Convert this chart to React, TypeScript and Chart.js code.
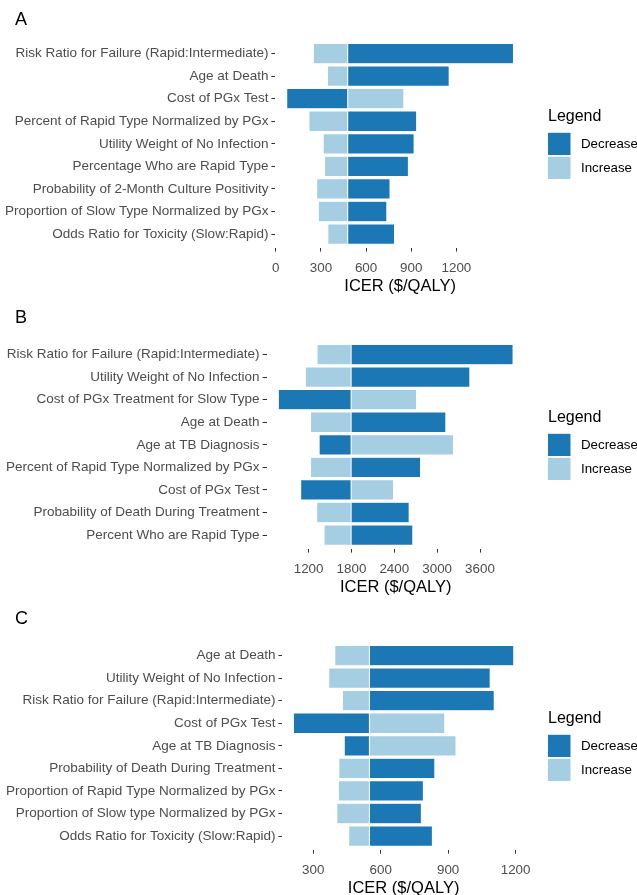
import React, { useEffect, useRef } from "react";
import { Chart, registerables } from "chart.js";

Chart.register(...registerables);

// ---------- Panel A ----------
const labelsA = [
  "Risk Ratio for Failure (Rapid:Intermediate)",
  "Age at Death",
  "Cost of PGx Test",
  "Percent of Rapid Type Normalized by PGx",
  "Utility Weight of No Infection",
  "Percentage Who are Rapid Type",
  "Probability of 2-Month Culture Positivity",
  "Proportion of Slow Type Normalized by PGx",
  "Odds Ratio for Toxicity (Slow:Rapid)",
];
const baseA = 478;
const decreaseA = [1579, 1152, 73, 936, 919, 881, 759, 738, 789];
const increaseA = [250, 343, 851, 221, 315, 324, 272, 283, 346];
const ticksA = [0, 300, 600, 900, 1200];

// ---------- Panel B ----------
const labelsB = [
  "Risk Ratio for Failure (Rapid:Intermediate)",
  "Utility Weight of No Infection",
  "Cost of PGx Treatment for Slow Type",
  "Age at Death",
  "Age at TB Diagnosis",
  "Percent of Rapid Type Normalized by PGx",
  "Cost of PGx Test",
  "Probability of Death During Treatment",
  "Percent Who are Rapid Type",
];
const baseB = 1795;
const decreaseB = [4063, 3458, 776, 3122, 1347, 2767, 1089, 2608, 2659];
const increaseB = [1318, 1154, 2711, 1227, 3229, 1227, 2390, 1313, 1416];
const ticksB = [1200, 1800, 2400, 3000, 3600];

// ---------- Panel C ----------
const labelsC = [
  "Age at Death",
  "Utility Weight of No Infection",
  "Risk Ratio for Failure (Rapid:Intermediate)",
  "Cost of PGx Test",
  "Age at TB Diagnosis",
  "Probability of Death During Treatment",
  "Proportion of Rapid Type Normalized by PGx",
  "Proportion of Slow type Normalized by PGx",
  "Odds Ratio for Toxicity (Slow:Rapid)",
];
const baseC = 550;
const decreaseC = [1192, 1087, 1105, 212, 438, 841, 790, 781, 830];
const increaseC = [396, 369, 430, 885, 935, 414, 412, 405, 458];
const ticksC = [300, 600, 900, 1200];

const seriesNames = ["Decrease", "Increase"];
const axisTitle = "ICER ($/QALY)";
const legendTitle = "Legend";

// ---------- styling ----------
const FONT = "'Liberation Sans', Arial, Helvetica, sans-serif";
const DARK = "#1c78b4";
const LIGHT = "#a6cee3";
const W = 637;
const H = 301;
const PLOT_TOP = 40;
const PLOT_BOTTOM = 247.6;
const PLOT_RIGHT = 524.8;

type PanelProps = {
  letter: string;
  labels: string[];
  base: number;
  decrease: number[];
  increase: number[];
  ticks: number[];
  plotLeft: number;
  letterY: number;
};

function TornadoPanel(p: PanelProps) {
  const ref = useRef<HTMLCanvasElement | null>(null);

  useEffect(() => {
    if (!ref.current) return;
    const all = [p.base, ...p.decrease, ...p.increase];
    const lo = Math.min(...all);
    const hi = Math.max(...all);
    const pad = (hi - lo) * 0.05;
    const rows = p.labels.length;

    // panel letter and the legend block on the right
    const decor = {
      id: "panelDecor",
      afterDraw(chart: any) {
        const ctx = chart.ctx as CanvasRenderingContext2D;
        ctx.save();
        ctx.fillStyle = "#000";
        ctx.textAlign = "left";
        ctx.textBaseline = "middle";
        ctx.font = `18px ${FONT}`;
        ctx.fillText(p.letter, 15, p.letterY);

        ctx.font = `16px ${FONT}`;
        ctx.fillText(legendTitle, 548, 116.5);
        const colors = [DARK, LIGHT];
        const keyTops = [132.8, 156.8];
        ctx.font = `13.3px ${FONT}`;
        seriesNames.forEach((name, i) => {
          ctx.fillStyle = colors[i];
          ctx.fillRect(548, keyTops[i], 22.5, 22.2);
          ctx.fillStyle = "#000";
          ctx.fillText(name, 581, keyTops[i] + 11.6);
        });
        ctx.restore();
      },
    };

    const barStyle = {
      borderWidth: 0.5,
      borderColor: "rgba(255,255,255,0.8)",
      borderSkipped: false,
      grouped: false,
      barPercentage: 0.9,
      categoryPercentage: 1,
    };

    const chart = new Chart(ref.current, {
      type: "bar",
      data: {
        datasets: [
          {
            label: seriesNames[0],
            data: p.labels.map((_, i) => ({ y: i + 1, x: [p.base, p.decrease[i]] })),
            backgroundColor: DARK,
            ...barStyle,
          },
          {
            label: seriesNames[1],
            data: p.labels.map((_, i) => ({ y: i + 1, x: [p.base, p.increase[i]] })),
            backgroundColor: LIGHT,
            ...barStyle,
          },
        ],
      } as any,
      options: {
        indexAxis: "y",
        responsive: false,
        animation: false,
        devicePixelRatio: 1,
        layout: { padding: { top: PLOT_TOP, right: W - PLOT_RIGHT, left: 0, bottom: 0 } },
        plugins: { legend: { display: false }, tooltip: { enabled: false } },
        scales: {
          x: {
            type: "linear",
            min: lo - pad,
            max: hi + pad,
            bounds: "data",
            beginAtZero: false,
            offset: false,
            afterBuildTicks: (s: any) => {
              s.ticks = p.ticks.map((v) => ({ value: v }));
            },
            afterFit: (s: any) => {
              s.height = H - PLOT_BOTTOM;
            },
            ticks: {
              autoSkip: false,
              maxRotation: 0,
              padding: 8.5,
              color: "#4d4d4d",
              font: { family: FONT, size: 13.4 },
              callback: (v: any) => String(v),
            },
            grid: {
              display: true,
              drawOnChartArea: false,
              drawTicks: true,
              tickLength: 4,
              color: "#333333",
              lineWidth: 1,
              offset: false,
            },
            border: { display: false },
            title: {
              display: true,
              text: axisTitle,
              color: "#000",
              font: { family: FONT, size: 16.5 },
              padding: { top: 0, bottom: 5 },
            },
          },
          y: {
            type: "linear",
            reverse: true,
            min: 1 - 0.6,
            max: rows + 0.6,
            bounds: "data",
            offset: false,
            afterBuildTicks: (s: any) => {
              s.ticks = p.labels.map((_, i) => ({ value: i + 1 }));
            },
            afterFit: (s: any) => {
              s.width = p.plotLeft;
            },
            ticks: {
              autoSkip: false,
              padding: 3,
              color: "#4d4d4d",
              font: { family: FONT, size: 13.5 },
              callback: (v: any) => p.labels[Math.round(v) - 1] ?? "",
            },
            grid: {
              display: true,
              drawOnChartArea: false,
              drawTicks: true,
              tickLength: 4,
              color: "#333333",
              lineWidth: 1,
              offset: false,
            },
            border: { display: false },
          },
        },
      } as any,
      plugins: [decor],
    });

    return () => chart.destroy();
  }, []);

  return <canvas ref={ref} width={W} height={H} style={{ display: "block" }} />;
}

export default function App() {
  const panels: (PanelProps & { top: number })[] = [
    { letter: "A", labels: labelsA, base: baseA, decrease: decreaseA, increase: increaseA, ticks: ticksA, plotLeft: 275.4, letterY: 20.5, top: 0 },
    { letter: "B", labels: labelsB, base: baseB, decrease: decreaseB, increase: increaseB, ticks: ticksB, plotLeft: 266.6, letterY: 17.5, top: 301 },
    { letter: "C", labels: labelsC, base: baseC, decrease: decreaseC, increase: increaseC, ticks: ticksC, plotLeft: 282.4, letterY: 17, top: 602 },
  ];
  return (
    <div
      style={{
        position: "absolute",
        left: 0,
        top: 0,
        width: W,
        height: 895,
        overflow: "hidden",
        background: "#fff",
      }}
    >
      {panels.map(({ top, ...rest }) => (
        <div key={rest.letter} style={{ position: "absolute", left: 0, top, width: W, height: H }}>
          <TornadoPanel {...rest} />
        </div>
      ))}
    </div>
  );
}
